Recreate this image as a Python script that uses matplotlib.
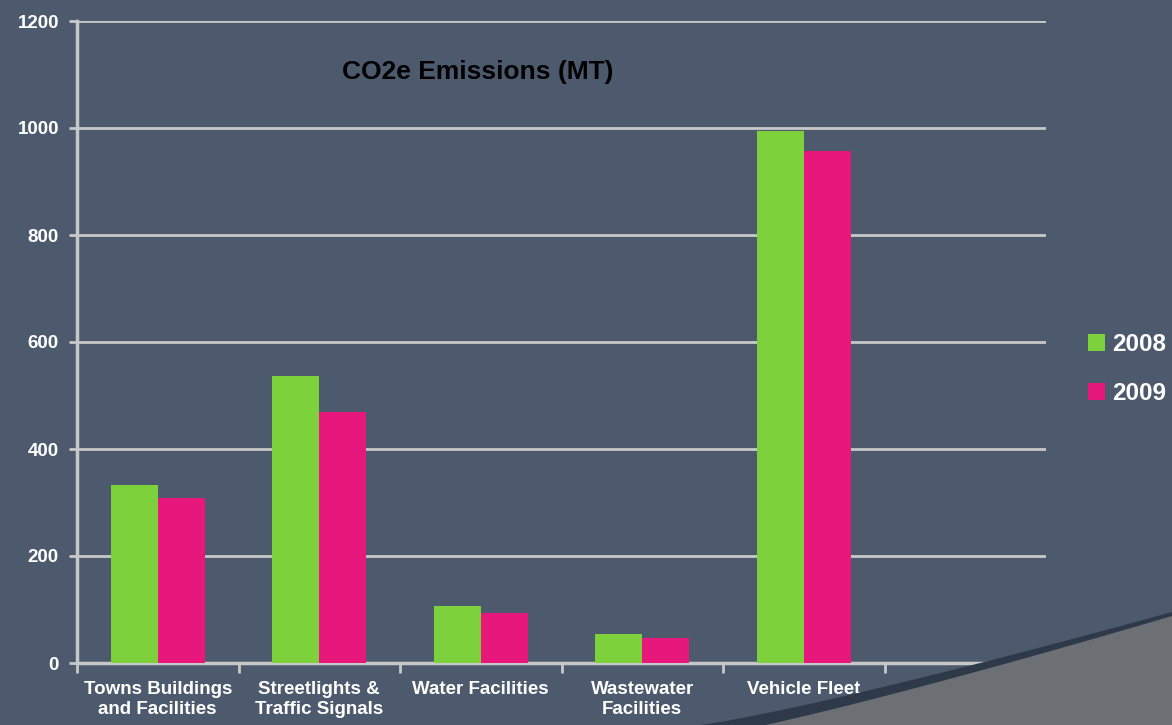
import matplotlib
matplotlib.use("Agg")
import matplotlib.pyplot as plt
import numpy as np
from matplotlib.patches import Polygon

categories = ["Towns Buildings\nand Facilities", "Streetlights &\nTraffic Signals",
              "Water Facilities", "Wastewater\nFacilities", "Vehicle Fleet", ""]
series_2008 = [333, 536, 106, 54, 994, None]
series_2009 = [309, 469, 93, 47, 957, None]
series_names = ["2008", "2009"]
yticks = [0, 200, 400, 600, 800, 1000, 1200]

bg = "#4d5a6d"
green = "#7dd13b"
pink = "#e8177b"
grid_c = "#c8c8c8"

plt.rcParams['font.family'] = ['Liberation Sans', 'DejaVu Sans']

fig = plt.figure(figsize=(11.72, 7.25), dpi=100, facecolor=bg)
ax = fig.add_axes([77/1172, 1 - 663/725, (1046 - 77)/1172, 642/725])
ax.set_facecolor(bg)

# decorative curve bottom right
t = np.linspace(0, 1, 60)
xs = 700 + (1172 - 700) * t
ys = 725 - (725 - 612) * (t ** 1.15)
band = 9 * (1 - t) + 4
outer = [(x / 1172, 1 - y / 725) for x, y in zip(xs, ys)]
inner = [(x / 1172, 1 - (y + b) / 725) for x, y, b in zip(xs, ys, band)]
poly_dark = Polygon(outer + [(1, 0), (700 / 1172, 0)], closed=True,
                    transform=fig.transFigure, facecolor="#2e3a4a", edgecolor="none", zorder=0)
poly_gray = Polygon(inner + [(1, 0), (700 / 1172, 0)], closed=True,
                    transform=fig.transFigure, facecolor="#6c6f73", edgecolor="none", zorder=0)
fig.patches.extend([poly_dark, poly_gray])

n = len(categories)
x = np.arange(n)
w = 0.29
v08 = [v if v is not None else 0 for v in series_2008]
v09 = [v if v is not None else 0 for v in series_2009]
ax.bar(x - w / 2, v08, width=w, color=green, label=series_names[0], zorder=3)
ax.bar(x + w / 2, v09, width=w, color=pink, label=series_names[1], zorder=3)

ax.set_xlim(-0.5, n - 0.5)
ax.set_ylim(0, 1200)
ax.set_yticks(yticks)
ax.set_yticklabels([str(v) for v in yticks], color="white", fontsize=13.5, fontweight="bold")
ax.yaxis.grid(True, color=grid_c, linewidth=2, zorder=1)
ax.set_axisbelow(True)

ax.set_xticks(x)
ax.set_xticklabels(categories, color="white", fontsize=13.5, fontweight="bold", linespacing=1.2)
ax.tick_params(axis="x", length=0, pad=13)
ax.set_xticks(np.arange(n + 1) - 0.5, minor=True)
ax.tick_params(axis="x", which="minor", length=7, width=2, color=grid_c)
ax.tick_params(axis="y", length=6, width=2, color=grid_c, pad=7)

for s in ["top", "right"]:
    ax.spines[s].set_visible(False)
for s in ["left", "bottom"]:
    ax.spines[s].set_color(grid_c)
    ax.spines[s].set_linewidth(2.5)

ax.text(0.414, 0.92, "CO2e Emissions (MT)", transform=ax.transAxes, ha="center", va="center",
        fontsize=19, fontweight="bold", color="black")

leg = fig.legend(loc="center left", bbox_to_anchor=(1088 / 1172, 1 - 369 / 725), frameon=False,
                 fontsize=17.5, handlelength=0.7, handleheight=0.7, handletextpad=0.3,
                 labelspacing=1.05, borderpad=0, borderaxespad=0)
for txt in leg.get_texts():
    txt.set_color("white")
    txt.set_fontweight("bold")

fig.savefig("out.png", dpi=100, facecolor=bg)
